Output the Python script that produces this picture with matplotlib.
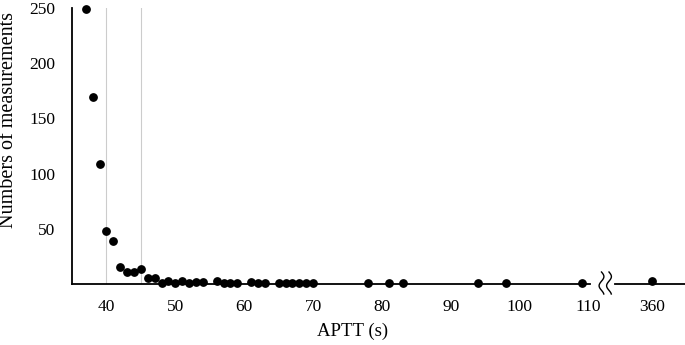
import numpy as np
import matplotlib
matplotlib.use("Agg")
import matplotlib.pyplot as plt

# APTT values (s) and number of measurements
aptt = [37, 38, 39, 40, 41, 42, 43, 44, 45, 46, 47, 48, 49, 50, 51, 52, 53, 54,
        56, 57, 58, 59, 61, 62, 63, 65, 66, 67, 68, 69, 70,
        78, 81, 83, 94, 98, 109]
counts = [249, 169, 109, 48, 39, 15, 11, 11, 14, 5, 5, 1, 3, 1, 3, 1, 2, 2,
          3, 1, 1, 1, 2, 1, 1, 1, 1, 1, 1, 1, 1,
          1, 1, 1, 1, 1, 1]
# outlier after the axis break
aptt_far = [360]
counts_far = [3]

ref_lines = [40, 45]
main_ticks = [40, 50, 60, 70, 80, 90, 100, 110]
y_ticks = [50, 100, 150, 200, 250]

plt.rcParams['font.family'] = ['Liberation Serif', 'DejaVu Serif']
plt.rcParams['font.size'] = 12.5

W, H = 685, 345
fig = plt.figure(figsize=(W / 100, H / 100), dpi=100)

ax = fig.add_axes([72 / W, 61 / H, 518 / W, 276 / H])
ax2 = fig.add_axes([615 / W, 61 / H, 70 / W, 276 / H])

for x in ref_lines:
    ax.axvline(x, color='#cccccc', lw=0.8, zorder=1)

ax.scatter(aptt, counts, s=28, color='black', zorder=3, clip_on=False)
ax2.scatter(aptt_far, counts_far, s=28, color='black', zorder=3, clip_on=False)

ax.set_xlim(35, 110.2)
ax.set_ylim(0, 250)
ax2.set_xlim(354.7, 364.8)
ax2.set_ylim(0, 250)

ax.set_xticks(main_ticks)
ax.set_yticks(y_ticks)
ax2.set_xticks(aptt_far)
ax2.set_yticks([])

for a in (ax, ax2):
    for side in ('top', 'right'):
        a.spines[side].set_visible(False)
    a.spines['bottom'].set_linewidth(1.3)
    a.tick_params(axis='x', length=0, pad=11)
    a.tick_params(axis='y', length=0, pad=12)
ax.spines['left'].set_linewidth(1.3)
ax2.spines['left'].set_visible(False)

# break mark
t = np.linspace(0, 1, 60)
for x0 in (601.5, 609.0):
    xs = (x0 + 2.4 * np.sin(t * 2.4 * np.pi)) / W
    ys = (H - (272 + 22 * t)) / H
    fig.add_artist(plt.Line2D(xs, ys, color='black', lw=1.0, transform=fig.transFigure))

fig.text(353 / W, 1 - 331 / H, 'APTT (s)', ha='center', va='center', fontsize=13.5)
fig.text(9 / W, 1 - 120 / H, 'Numbers of measurements', ha='center', va='center',
         rotation=90, fontsize=14.5)

fig.savefig('out.png', dpi=100)
